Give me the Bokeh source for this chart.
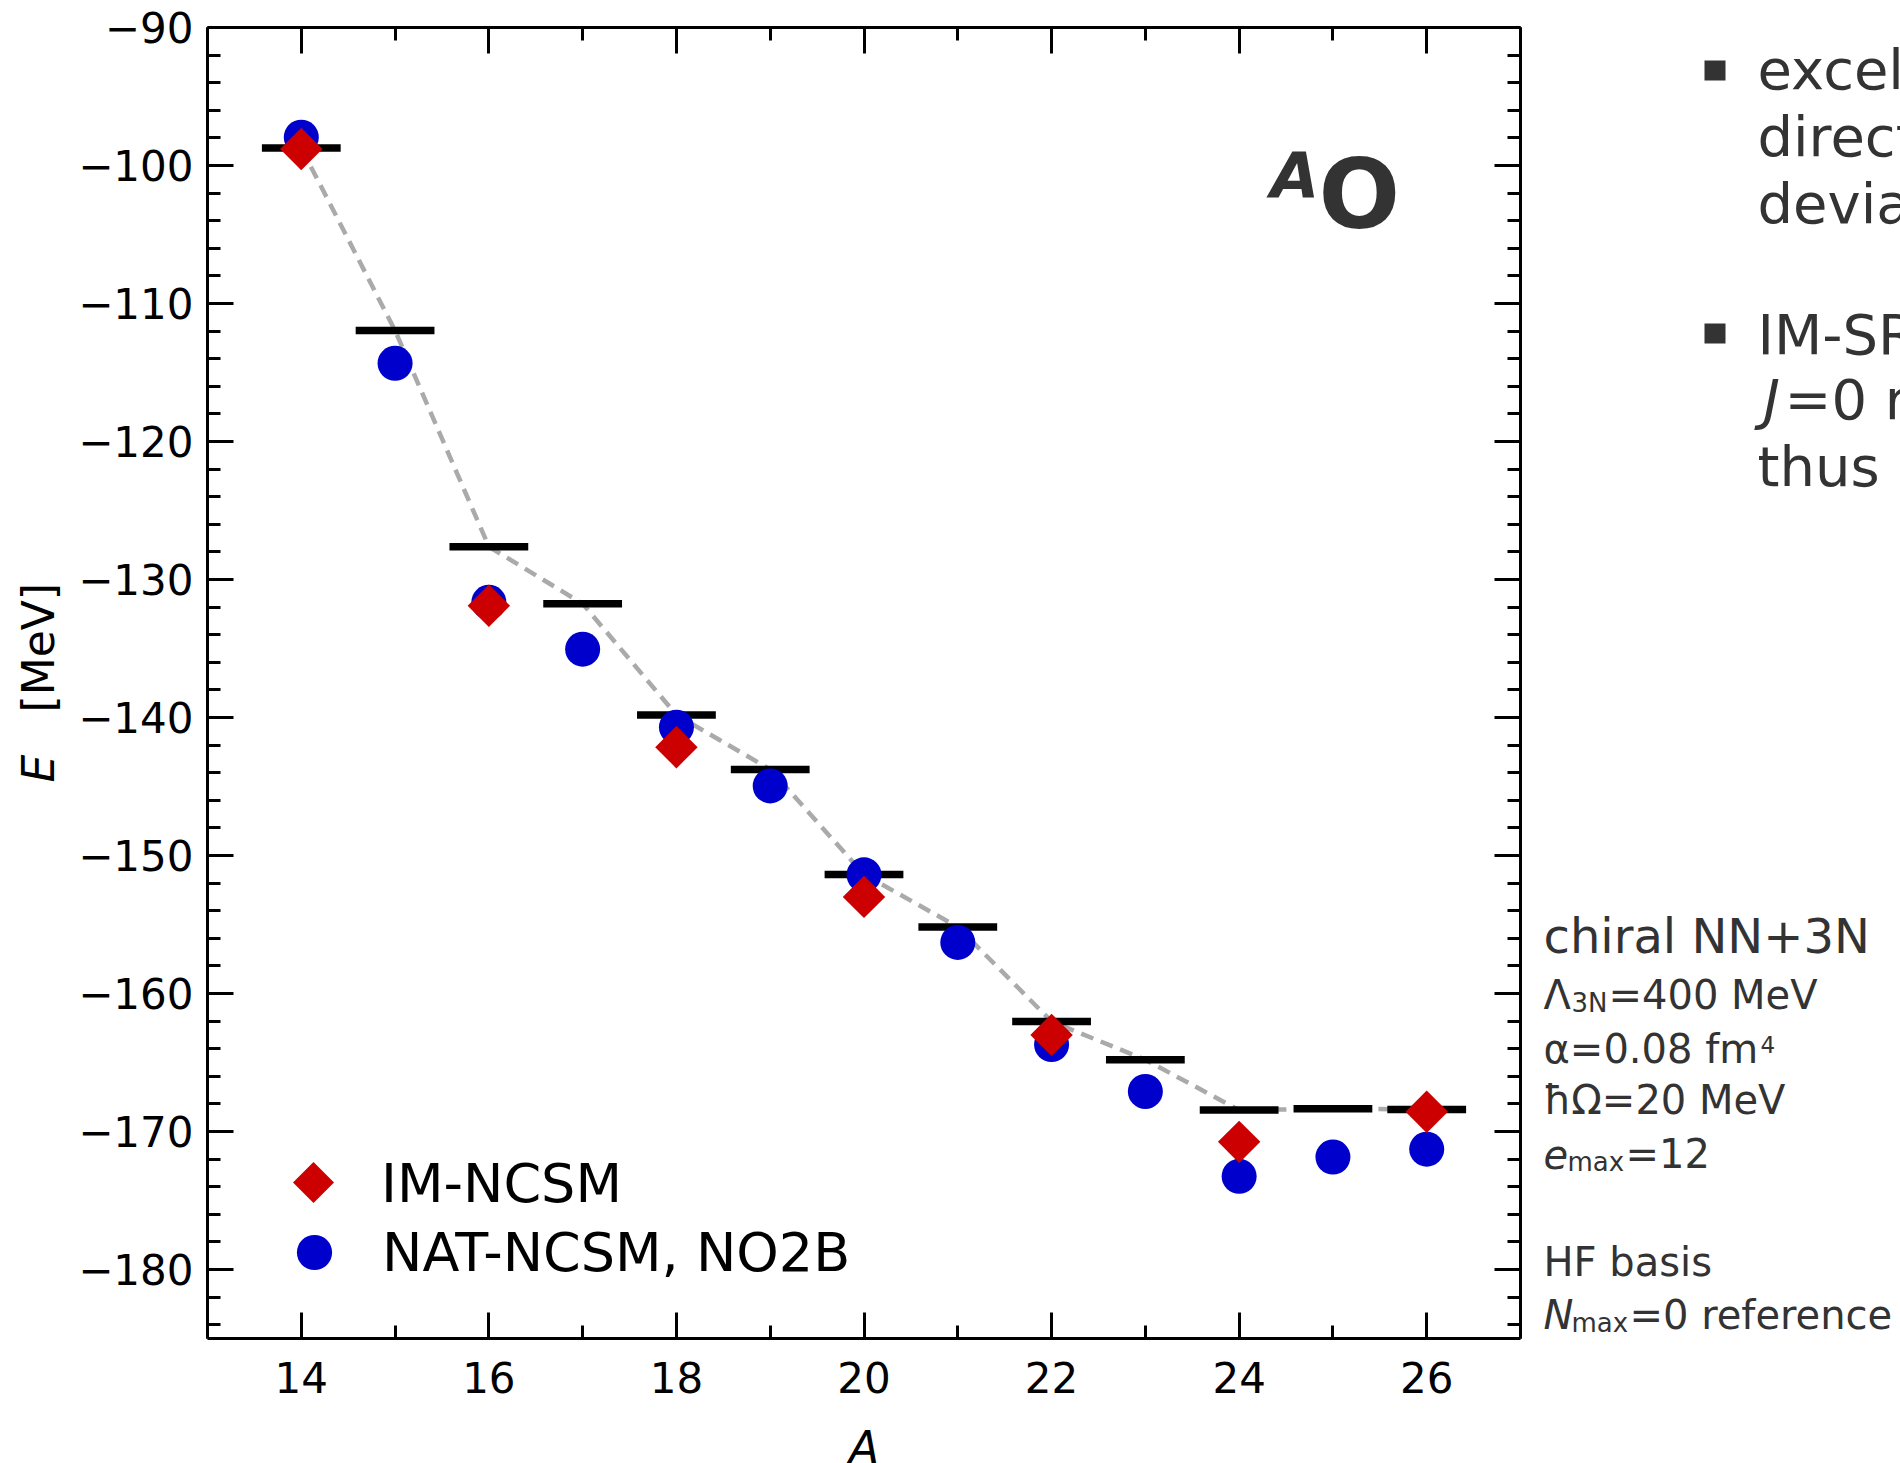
import math
from bokeh.plotting import figure
from bokeh.layouts import row, column
from bokeh.models import (ColumnDataSource, Range1d, LinearAxis, FixedTicker,
                          Legend, LegendItem, Label, CustomJSTickFormatter,
                          PolyAnnotation)
from bokeh.embed import file_html
from bokeh.resources import INLINE

# ---------------- data ----------------
A_exp = [14, 15, 16, 17, 18, 19, 20, 21, 22, 23, 24, 25, 26]
E_exp = [-98.73, -111.96, -127.62, -131.76, -139.81, -143.76, -151.37,
         -155.18, -162.03, -164.80, -168.45, -168.35, -168.40]

A_im = [14, 16, 18, 20, 22, 24, 26]
E_im = [-98.80, -131.90, -142.15, -153.00, -163.00, -170.75, -168.57]

A_nat = [14, 15, 16, 17, 18, 19, 20, 21, 22, 23, 24, 25, 26]
E_nat = [-97.95, -114.33, -131.65, -135.05, -140.70, -144.96, -151.40,
         -156.30, -163.70, -167.10, -173.25, -171.85, -171.28]

x_major = [14, 16, 18, 20, 22, 24, 26]
x_minor = [13, 15, 17, 19, 21, 23, 25, 27]
y_major = [-180, -170, -160, -150, -140, -130, -120, -110, -100, -90]
y_minor = [-184, -182, -178, -176, -174, -172, -168, -166, -164, -162,
           -158, -156, -154, -152, -148, -146, -144, -142, -138, -136,
           -134, -132, -128, -126, -124, -122, -118, -116, -114, -112,
           -108, -106, -104, -102, -98, -96, -94, -92]

BAR_HALF = 0.42
FONT = "DejaVu Sans"
TXT = "#333333"
MID = 0.346          # em offset of the em-box middle above the baseline

# ---------------- page geometry ----------------
W, H = 1900, 1463
LEFT_W = 75          # strip with the y label
MAIN_W = 1460
MAIN_H = 1420
RIGHT_X = LEFT_W + MAIN_W
FL, FR, FT, FB = 207, 1520, 27, 1338   # frame edges in page px


def blank_fig(w, h):
    f = figure(width=w, height=h, x_range=Range1d(0, 1), y_range=Range1d(0, 1),
               output_backend="svg", toolbar_location=None,
               x_axis_location=None, y_axis_location=None, min_border=0)
    f.grid.visible = False
    f.outline_line_color = None
    f.background_fill_color = "white"
    f.border_fill_color = "white"
    return f


def lab(fig, ox, oy, text, px, py, size, color=TXT, style="normal",
        angle=0.0, align="left"):
    """Place text with its baseline at page (px, py); (ox, oy) = page position
    of the figure frame's bottom-left corner."""
    if angle == 0.0:
        x, y = px - ox, oy - (py - MID * size)
    else:   # rotated 90 deg: baseline is vertical, glyph tops point left
        x, y = (px - MID * size) - ox, oy - py
    fig.add_layout(Label(x=x, y=y, x_units="screen", y_units="screen",
                         text=text, text_font=FONT, text_font_size=f"{size}px",
                         text_color=color, text_font_style=style, angle=angle,
                         text_align=align, text_baseline="middle"))


# ---------------- main figure ----------------
p = figure(width=MAIN_W, height=MAIN_H, x_range=Range1d(13, 27),
           y_range=Range1d(-185, -90),
           output_backend="svg", toolbar_location=None,
           min_border_left=FL - LEFT_W, min_border_right=RIGHT_X - FR,
           min_border_top=FT, min_border_bottom=MAIN_H - FB)
p.grid.visible = False
p.outline_line_color = None
p.background_fill_color = "white"
p.border_fill_color = "white"

p.add_layout(LinearAxis(), "above")
p.add_layout(LinearAxis(), "right")

xt = FixedTicker(ticks=x_major, minor_ticks=x_minor)
yt = FixedTicker(ticks=y_major, minor_ticks=y_minor)
blank = CustomJSTickFormatter(code="return ''")

for ax in p.xaxis:
    ax.ticker = xt
for ax in p.yaxis:
    ax.ticker = yt
for ax in p.axis:
    ax.axis_line_width = 3
    ax.axis_line_color = "black"
    ax.major_tick_line_width = 3
    ax.minor_tick_line_width = 3
    ax.major_tick_in = 26
    ax.major_tick_out = 0
    ax.minor_tick_in = 13
    ax.minor_tick_out = 0
    ax.major_label_text_font = FONT
    ax.major_label_text_font_size = "42px"
    ax.major_label_text_color = "black"

for ax in (p.above[0], p.right[0]):
    ax.formatter = blank
    ax.major_label_standoff = 0
p.below[0].major_label_standoff = 23
p.left[0].major_label_standoff = 14

src_exp = ColumnDataSource(dict(
    A=A_exp, E=E_exp,
    x0=[a - BAR_HALF for a in A_exp], x1=[a + BAR_HALF for a in A_exp]))
src_im = ColumnDataSource(dict(A=A_im, E=E_im))
src_nat = ColumnDataSource(dict(A=A_nat, E=E_nat))

p.line("A", "E", source=src_exp, line_color="#aaaaaa", line_width=4.5,
       line_dash="13 8")
p.segment(x0="x0", y0="E", x1="x1", y1="E", source=src_exp,
          line_color="black", line_width=7.5)
r_nat = p.scatter("A", "E", source=src_nat, marker="circle", size=35,
                  fill_color="#0000cc", line_color=None)
r_im = p.scatter("A", "E", source=src_im, marker="square", size=30,
                 angle=math.pi / 4, fill_color="#cc0000", line_color=None)
# transparent twin used only as the legend handle (legend glyphs ignore angle)
r_im_key = p.scatter("A", "E", source=src_im, marker="square", size=1,
                     fill_alpha=0, line_alpha=0)


def mk_legend(label, rend, loc, g, standoff):
    lg = Legend(items=[LegendItem(label=label, renderers=[rend])],
                location=loc, glyph_width=g, glyph_height=g,
                label_standoff=standoff, padding=0, margin=0,
                border_line_color=None, background_fill_alpha=0,
                label_text_font=FONT, label_text_font_size="54px",
                label_text_color="black")
    p.add_layout(lg, "center")


mk_legend("IM-NCSM", r_im_key, (70, 119), 72, 32)
mk_legend("NAT-NCSM, NO2B", r_nat, (63, 42), 88, 24)

# diamond key drawn in screen space (frame-relative)
kx, ky, kr = 313 - FL, FB - 1182, 20.5
p.add_layout(PolyAnnotation(xs=[kx - kr, kx, kx + kr, kx],
                            ys=[ky, ky + kr, ky, ky - kr],
                            xs_units="screen", ys_units="screen",
                            fill_color="#cc0000", fill_alpha=1.0,
                            line_color=None))

# nucleus label
lab(p, FL, FB, "A", 1270, 197, 63, style="bold italic")
lab(p, FL, FB, "O", 1318, 228, 96, style="bold")

# ---------------- y label strip (its frame is aligned with the main frame) ----
pl = blank_fig(LEFT_W, MAIN_H)
lab(pl, 0, FB, "E", 53, 782, 44, color="black", style="italic",
    angle=math.pi / 2)
lab(pl, 0, FB, "[MeV]", 53, 712, 44, color="black", angle=math.pi / 2)

# ---------------- x label strip ----------------
pb = blank_fig(RIGHT_X, H - MAIN_H)
lab(pb, 0, H, "A", (FL + FR) / 2, 1462, 44, color="black", style="italic",
    align="center")

# ---------------- right text panel ----------------
pr = blank_fig(W - RIGHT_X, H)


def labr(*a, **k):
    lab(pr, RIGHT_X, H, *a, **k)


labr("chiral NN+3N", 1543, 952, 48)
labr("Λ", 1543, 1008, 40)
labr("3N", 1571, 1011, 26)
labr("=400 MeV", 1608, 1008, 40)
labr("α=0.08 fm", 1543, 1062, 40)
labr("4", 1760, 1052, 23)
labr("ħΩ=20 MeV", 1543, 1113, 40)
labr("e", 1543, 1167, 40, style="italic")
labr("max", 1567, 1170, 26)
labr("=12", 1625, 1167, 40)
labr("HF basis", 1543, 1275, 40)
labr("N", 1543, 1328, 40, style="italic")
labr("max", 1571, 1331, 26)
labr("=0 reference", 1629, 1328, 40)

# slide bullets (text runs off the right edge, as on the slide)
for top in (60, 323):
    x0, x1 = 1704 - RIGHT_X, 1725 - RIGHT_X
    y0, y1 = H - top, H - (top + 20)
    pr.add_layout(PolyAnnotation(xs=[x0, x1, x1, x0], ys=[y0, y0, y1, y1],
                                 xs_units="screen", ys_units="screen",
                                 fill_color=TXT, fill_alpha=1.0, line_color=None))
labr("excellent", 1757, 88, 56)
labr("direct", 1757, 155, 56)
labr("deviations", 1757, 222, 56)
labr("IM-SRG", 1757, 353, 56)
labr("J", 1763, 418, 56, style="italic")
labr("=0 reference", 1784, 418, 56)
labr("thus", 1757, 485, 56)

layout = row(column(row(pl, p), pb), pr)
open("out.html", "w").write(file_html(layout, INLINE))
